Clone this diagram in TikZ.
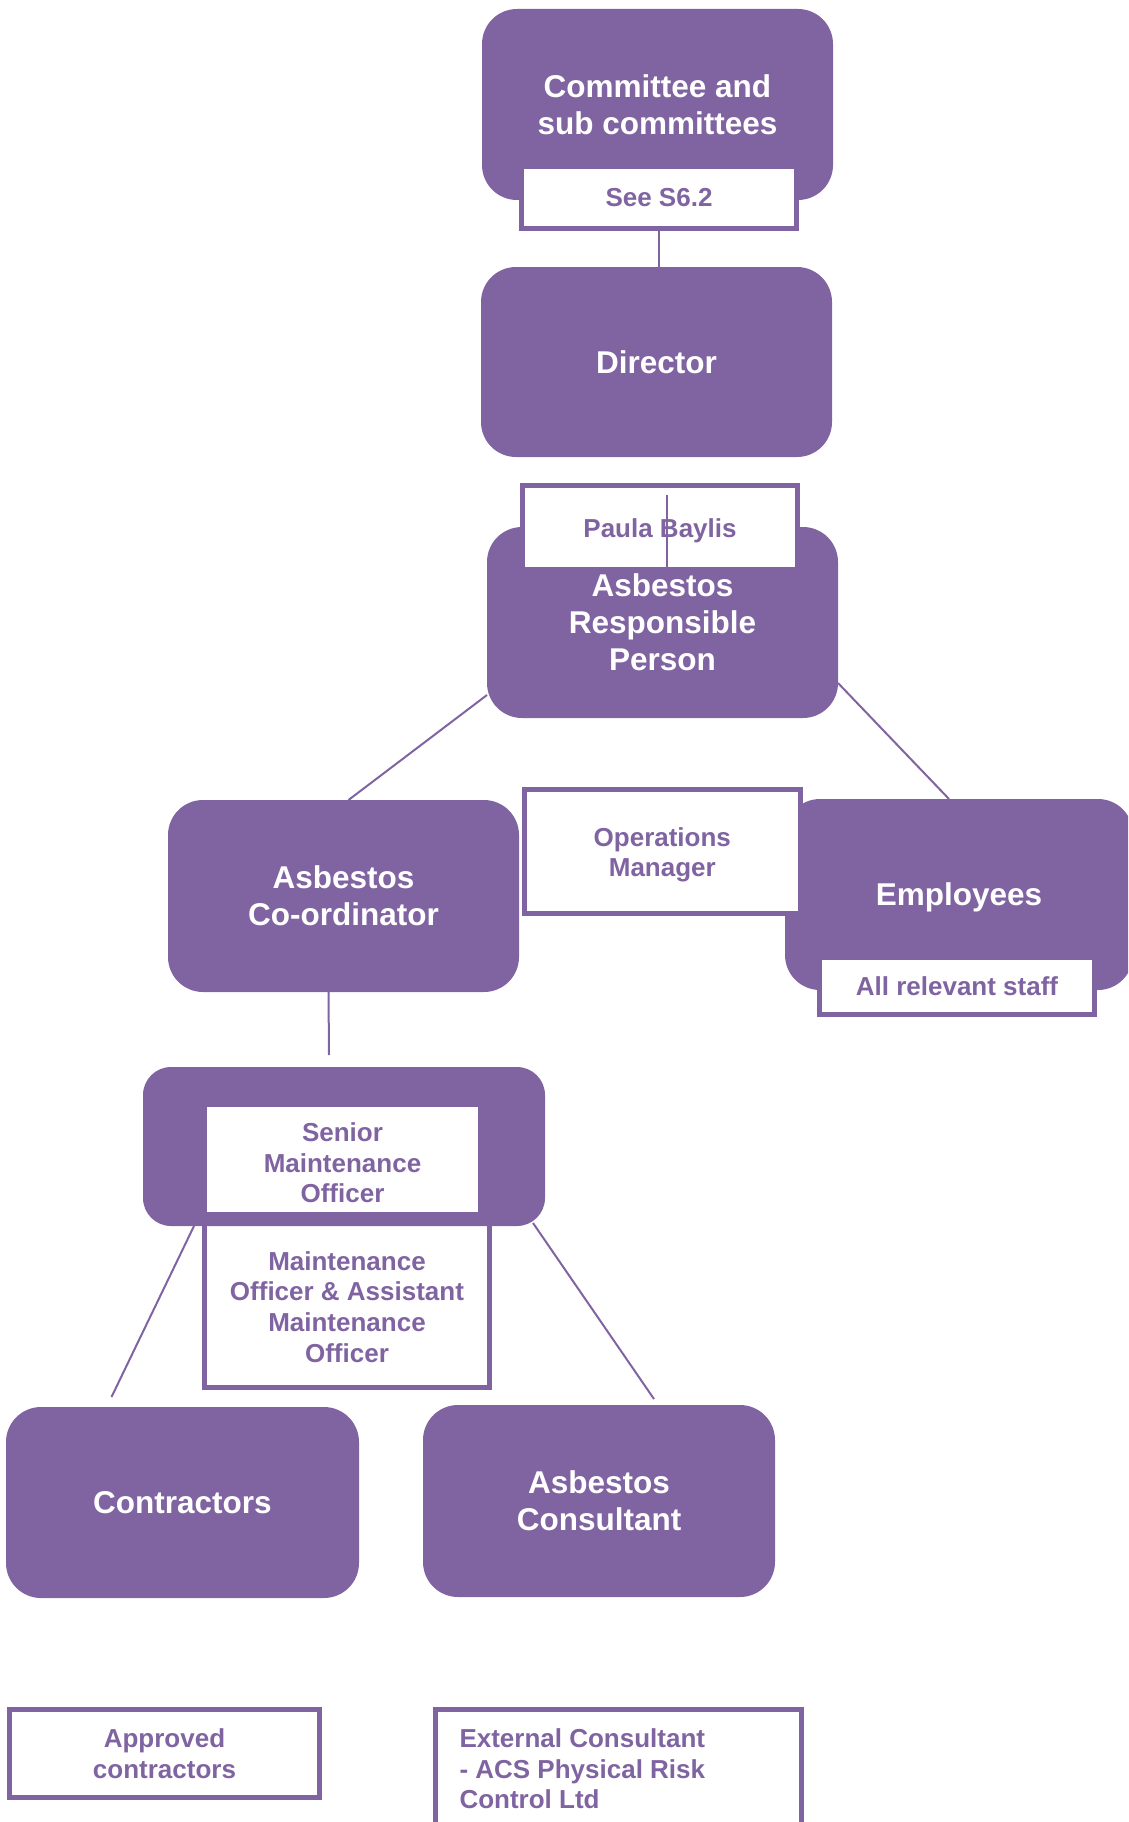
\documentclass[tikz,border=0pt]{standalone}
\usepackage{fontspec}
\setmainfont{Liberation Sans}
\definecolor{purp}{RGB}{128,100,162}
\newcommand{\upsp}[1]{\rule{0pt}{#1}}
\tikzset{
  pbox/.style={fill=purp, rounded corners=35pt, text=white, align=center,
    inner sep=0pt, outer sep=0pt, font=\fontsize{31.5}{37}\selectfont\bfseries},
  wbox/.style={fill=white, draw=purp, line width=5pt, text=purp, align=center,
    inner sep=0pt, outer sep=0pt, font=\fontsize{26}{30.7}\selectfont\bfseries},
  conn/.style={draw=purp, line width=2pt},
  sz/.style 2 args={minimum width=#1, minimum height=#2}
}
\begin{document}
\begin{tikzpicture}[x=1pt,y=-1pt]
\useasboundingbox (0,0) rectangle (1128,1822);
% top
\node[pbox, sz={351pt}{191pt}] (comm) at (657.5,104.5) {Committee and\\sub committees};
\node[wbox, sz={275pt}{62pt}] (see) at (659,197.5) {See S6.2};
\node[pbox, sz={351pt}{190pt}] (dir) at (656.5,362) {Director};
\draw[conn] (see.south) -- (see.south |- dir.north);
% ARP
\node[pbox, sz={351pt}{191pt}] (arp) at (662.5,622.5) {Asbestos\\Responsible\\Person};
\node[wbox, sz={275pt}{84pt}] (paula) at (660,527.5) {\upsp{24.5pt}Paula Baylis};
\coordinate (pl) at (667,495);
\draw[conn] (pl) -- ([yshift=2.5pt]pl |- paula.south);
% middle row
\node[pbox, sz={351pt}{192pt}] (coord) at (343.5,896) {Asbestos\\Co-ordinator};
\begin{scope}
\clip (0,0) rectangle (1128,1822);
\node[pbox, sz={348pt}{191pt}] (emp) at (959,894.5) {\upsp{28pt}Employees};
\end{scope}
\node[wbox, sz={276pt}{124pt}] (ops) at (662.3,851.5) {\upsp{25.2pt}Operations\\Manager};
\node[wbox, sz={275pt}{57pt}] (staff) at (957,986) {All relevant staff};
\draw[conn] ([yshift=-72.5pt]arp.west) -- ([xshift=5pt]coord.north);
\draw[conn] ([yshift=-60.5pt]arp.east) -- ([xshift=-10pt]emp.north);
% maintenance
\node[wbox, sz={285pt}{167pt}] (maint) at (347,1303.5) {\upsp{25.5pt}Maintenance\\Officer \& Assistant\\Maintenance\\Officer};
\node[pbox, rounded corners=28pt, sz={402pt}{159pt}] (smo) at (344,1146.5) {};
\node[wbox, sz={276pt}{110pt}] (senior) at (342.5,1159.5) {\upsp{25.5pt}Senior\\Maintenance\\Officer};
\draw[conn] ([xshift=-15pt]coord.south) -- ([xshift=-15pt,yshift=12pt]smo.north);
% bottom row
\node[pbox, sz={353pt}{191pt}] (contr) at (182.5,1502.5) {Contractors};
\node[pbox, sz={352pt}{192pt}] (cons) at (599,1501) {Asbestos\\Consultant};
\draw[conn] ([xshift=51pt]smo.south west) -- ([xshift=-71pt,yshift=10pt]contr.north);
\draw[conn] ([xshift=-12pt,yshift=3pt]smo.south east) -- ([xshift=55pt,yshift=6pt]cons.north);
% notes
\node[wbox, sz={309.5pt}{87.5pt}] (appr) at (164.5,1753.7) {Approved\\contractors};
\node[wbox, sz={366pt}{131pt}] (ext) at (618.8,1775) {};
\node[text=purp, align=left, inner sep=0pt, anchor=north west,
  font=\fontsize{26}{30.7}\selectfont\bfseries] (exttext) at (459.3,1728.5)
  {External Consultant\\- ACS Physical Risk\\Control Ltd};
\end{tikzpicture}
\end{document}
